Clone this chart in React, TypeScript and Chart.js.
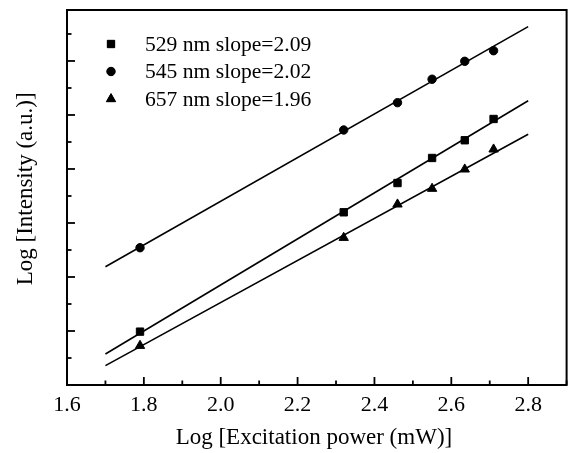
import React, { useEffect, useRef } from 'react';
import { Chart, registerables } from 'chart.js';
import { drawPoint } from 'chart.js/helpers';

Chart.register(...registerables);

// Log excitation power (mW)
const xPower = [1.79, 2.32, 2.46, 2.55, 2.635, 2.71];
// Log intensity (a.u.)
const y529 = [2.494, 3.599, 3.87, 4.102, 4.266, 4.463];
const y545 = [3.271, 4.361, 4.614, 4.831, 4.997, 5.095];
const y657 = [2.364, 3.364, 3.673, 3.818, 3.997, 4.182];
// linear fits
const fitX = [1.7, 2.8];
const fit529 = [2.287, 4.632];
const fit545 = [3.095, 5.318];
const fit657 = [2.179, 4.321];

const seriesLabels = ['529 nm slope=2.09', '545 nm slope=2.02', '657 nm slope=1.96'];
const seriesStyles = ['rect', 'circle', 'triangle'];
const seriesRadius = [5.2, 4.2, 5.4];

const xMin = 1.6;
const xMax = 2.9;
const yMin = 2.0;
const yMax = 5.472;

const FONT = "'Liberation Serif', 'Times New Roman', serif";

const toPts = (xs: number[], ys: number[]) => xs.map((x, i) => ({ x, y: ys[i] }));

const frameTicks = {
  id: 'frameTicks',
  afterDraw(chart: any) {
    const { ctx, chartArea: a, scales } = chart;
    ctx.save();
    ctx.strokeStyle = '#000';
    ctx.lineWidth = 1.8;
    const xs = scales.x;
    xs.ticks.forEach((t: any) => {
      const v = t.value;
      const k = Math.round(v * 10);
      if (Math.abs(v * 10 - k) > 1e-6) return;
      const px = xs.getPixelForValue(v);
      const len = k % 2 === 0 ? 8 : 4.5;
      ctx.beginPath();
      ctx.moveTo(px, a.bottom);
      ctx.lineTo(px, a.bottom - len);
      ctx.stroke();
    });
    const ys = scales.y;
    for (let k = Math.ceil(ys.min * 4 - 1e-6); k <= Math.floor(ys.max * 4 + 1e-6); k++) {
      const py = ys.getPixelForValue(k / 4);
      const len = k % 2 === 0 ? 8 : 4.5;
      ctx.beginPath();
      ctx.moveTo(a.left, py);
      ctx.lineTo(a.left + len, py);
      ctx.stroke();
    }
    ctx.lineWidth = 2;
    ctx.strokeRect(a.left, a.top, a.right - a.left, a.bottom - a.top);
    ctx.restore();
  },
};

const innerLegend = {
  id: 'innerLegend',
  afterDatasetsDraw(chart: any) {
    const { ctx, chartArea: a } = chart;
    const items = chart.data.datasets.filter((d: any) => d.legendText);
    ctx.save();
    ctx.fillStyle = '#000';
    ctx.strokeStyle = '#000';
    ctx.font = `21.6px ${FONT}`;
    ctx.textBaseline = 'middle';
    ctx.textAlign = 'left';
    items.forEach((d: any, i: number) => {
      const y = a.top + 34 + i * 27.5;
      const x = a.left + 44;
      drawPoint(ctx, { pointStyle: d.pointStyle, radius: d.pointRadius, rotation: 0, borderWidth: 1 }, x, y);
      ctx.fill();
      ctx.fillText(d.legendText, a.left + 78, y + 1);
    });
    ctx.restore();
  },
};

export default function App() {
  const ref = useRef<HTMLCanvasElement | null>(null);
  useEffect(() => {
    if (!ref.current) return;
    const markerSets = [y529, y545, y657].map((ys, i) => ({
      type: 'scatter' as const,
      label: seriesLabels[i],
      legendText: seriesLabels[i],
      data: toPts(xPower, ys),
      pointStyle: seriesStyles[i],
      pointRadius: seriesRadius[i],
      pointBackgroundColor: '#000',
      pointBorderColor: '#000',
      pointBorderWidth: 1,
      showLine: false,
    }));
    const fitSets = [fit529, fit545, fit657].map((ys, i) => ({
      type: 'line' as const,
      label: seriesLabels[i] + ' fit',
      data: toPts(fitX, ys),
      borderColor: '#000',
      borderWidth: 1.6,
      pointRadius: 0,
      fill: false,
    }));
    const chart = new Chart(ref.current, {
      type: 'scatter',
      data: { datasets: [...fitSets, ...markerSets] as any },
      options: {
        animation: false,
        responsive: false,
        layout: { padding: { top: 10, right: 1, left: 0, bottom: 0 } },
        plugins: { legend: { display: false }, tooltip: { enabled: false } },
        scales: {
          x: {
            type: 'linear',
            min: xMin,
            max: xMax,
            grid: { display: false, drawTicks: false },
            border: { display: false },
            ticks: {
              stepSize: 0.1,
              autoSkip: false,
              maxRotation: 0,
              padding: 7,
              color: '#000',
              font: { family: FONT, size: 22 },
              callback: (v: any) => {
                const k = Math.round(Number(v) * 10);
                return k % 2 === 0 && k <= 28 ? (k / 10).toFixed(1) : '';
              },
            },
            title: {
              display: true,
              text: 'Log [Excitation power (mW)] ',
              color: '#000',
              font: { family: FONT, size: 23 },
              padding: { top: 0, bottom: 1 },
            },
            afterFit: (s: any) => {
              s.height = 68;
              s.paddingLeft = 0;
              s.paddingRight = 0;
            },
          },
          y: {
            type: 'linear',
            min: yMin,
            max: yMax,
            grid: { display: false, drawTicks: false },
            border: { display: false },
            ticks: { display: false, stepSize: 0.25 },
            title: {
              display: true,
              text: '   Log [Intensity (a.u.)]',
              color: '#000',
              font: { family: FONT, size: 23 },
              padding: { top: 12, bottom: 0 },
            },
            afterFit: (s: any) => {
              s.width = 67;
              s.paddingTop = 0;
              s.paddingBottom = 0;
            },
          },
        },
      },
      plugins: [frameTicks, innerLegend],
    });
    return () => chart.destroy();
  }, []);
  return (
    <div style={{ position: 'fixed', left: 0, top: 0, width: 573, height: 453, background: '#fff' }}>
      <canvas ref={ref} width={573} height={453} style={{ display: 'block' }} />
    </div>
  );
}
